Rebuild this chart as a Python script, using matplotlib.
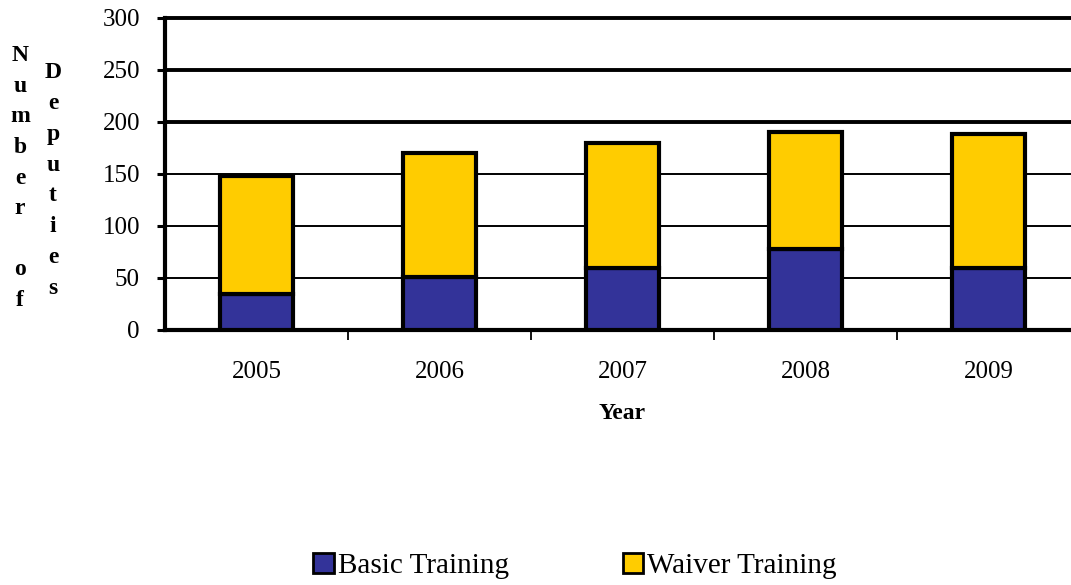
import matplotlib
matplotlib.use("Agg")
import matplotlib.pyplot as plt
from matplotlib.patches import Patch
import numpy as np

years = ["2005", "2006", "2007", "2008", "2009"]
basic = [35, 51, 60, 78, 60]
waiver = [113, 119, 120, 112, 128]
yticks = [0, 50, 100, 150, 200, 250, 300]

BLUE = "#333399"
YELLOW = "#FFCC00"

plt.rcParams['font.family'] = ['Liberation Serif', 'DejaVu Serif']

fig = plt.figure(figsize=(10.71, 5.85), dpi=100)
ax = fig.add_axes([165/1071, 1-330/585, (1080-165)/1071, (330-18)/585])

x = np.arange(len(years))
# gridlines
for v in yticks[1:]:
    lw = 2.8 if v >= 200 else 1.4
    ax.axhline(v, color='black', lw=lw, zorder=1, clip_on=False)

ax.bar(x, basic, width=0.4, color=BLUE, edgecolor='black', linewidth=3, zorder=3)
ax.bar(x, waiver, bottom=basic, width=0.4, color=YELLOW, edgecolor='black', linewidth=3, zorder=3)

ax.set_xlim(-0.5, len(years)-0.5)
ax.set_ylim(0, 300)
ax.set_yticks(yticks)
ax.set_yticklabels([str(v) for v in yticks], fontsize=18)
ax.tick_params(axis='y', direction='out', length=6, width=2.2, pad=12)

ax.set_xticks(np.arange(0.5, len(years)-0.5, 1.0))
ax.set_xticklabels([])
ax.tick_params(axis='x', which='major', direction='out', length=7, width=1.3)
ax.set_xticks(x, minor=True)
ax.set_xticklabels(years, minor=True, fontsize=18)
ax.tick_params(axis='x', which='minor', length=0, pad=22)

for s in ['top', 'right']:
    ax.spines[s].set_visible(False)
ax.spines['left'].set_linewidth(3)
ax.spines['bottom'].set_linewidth(3)

ax.set_xlabel("Year", fontsize=17, fontweight='bold', labelpad=15)

fig.text(20/1071, 1-178/585, "\n".join("Number") + "\n\n" + "\n".join("of"),
         ha='center', va='center', fontsize=17, fontweight='bold', linespacing=1.6)
fig.text(53/1071, 1-180.5/585, "\n".join("Deputies"),
         ha='center', va='center', fontsize=17, fontweight='bold', linespacing=1.62)

handles = [Patch(facecolor=BLUE, edgecolor='black', linewidth=2, label='Basic Training'),
           Patch(facecolor=YELLOW, edgecolor='black', linewidth=2, label='Waiver Training')]
fig.legend(handles=handles, loc='center', bbox_to_anchor=(575/1071, 1-566/585), ncol=2,
           frameon=False, fontsize=21, handlelength=0.7, handleheight=0.7,
           handletextpad=0.15, columnspacing=3.9)

fig.savefig("out.png", dpi=100)
